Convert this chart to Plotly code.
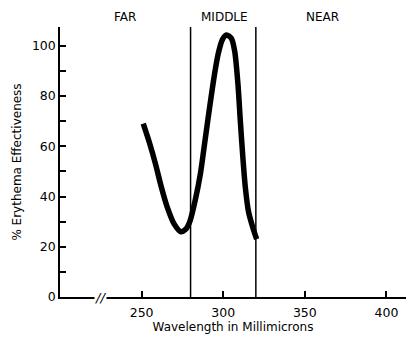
import plotly.graph_objects as go

wavelength = [251, 255, 258.5, 262, 265.6, 270, 274, 277, 279.5, 283, 286, 289, 292, 295, 297, 299.5, 302, 305, 307, 309, 310.5, 312, 313.5, 315.5, 318, 320.5]
effectiveness = [69, 61, 53, 44, 36, 29, 26, 27, 30, 39, 49, 63, 77, 90, 97, 102.5, 104.3, 103, 98, 85, 70, 56, 44, 34, 28, 23]

region_bounds = [280, 320]
region_names = ["FAR", "MIDDLE", "NEAR"]
region_label_x = [240, 301, 361]

x_ticks = [250, 300, 350, 400]
y_ticks = [0, 20, 40, 60, 80, 100]

font_family = "DejaVu Sans, Liberation Sans, sans-serif"

fig = go.Figure()
fig.add_trace(go.Scatter(
    x=wavelength, y=effectiveness, mode="lines",
    line=dict(color="black", width=5.5, shape="spline", smoothing=0.8),
    hoverinfo="skip", showlegend=False,
))

for b in region_bounds:
    fig.add_vline(x=b, line=dict(color="black", width=1.5))

for name, lx in zip(region_names, region_label_x):
    fig.add_annotation(x=lx, y=1.037, xref="x", yref="paper", text=name,
                       showarrow=False, yanchor="middle",
                       font=dict(family=font_family, size=12, color="black"))

# axis break mark
fig.add_annotation(x=225, y=0, xref="x", yref="y", text="<i>//</i>", showarrow=False,
                   font=dict(family=font_family, size=13, color="black"), bgcolor="white",
                   borderpad=0)

fig.update_layout(
    width=406, height=338,
    margin=dict(l=60, r=0, t=27, b=41),
    paper_bgcolor="white", plot_bgcolor="white",
    font=dict(family=font_family, size=12.5, color="black"),
    xaxis=dict(range=[200, 412], tickvals=x_ticks, ticks="inside", ticklen=6,
               tickwidth=1.5, tickcolor="black", automargin=False, ticklabelstandoff=3,
               showline=True, linecolor="black", linewidth=1.5, showgrid=False, zeroline=False,
               title=dict(text="Wavelength in Millimicrons", font=dict(size=12), standoff=4)),
    yaxis=dict(range=[0, 107.5], tickvals=y_ticks, ticks="inside", ticklen=6,
               tickwidth=1.5, tickcolor="black", automargin=False,
               minor=dict(ticks="inside", dtick=10, tick0=0, ticklen=6, tickcolor="black", tickwidth=1.5),
               showline=True, linecolor="black", linewidth=1.5, showgrid=False, zeroline=False,
               title=dict(text="% Erythema Effectiveness", font=dict(size=12), standoff=8)),
)

fig.write_html("out.html", config={"displayModeBar": False},
               post_script="document.body.style.margin='0px';")
